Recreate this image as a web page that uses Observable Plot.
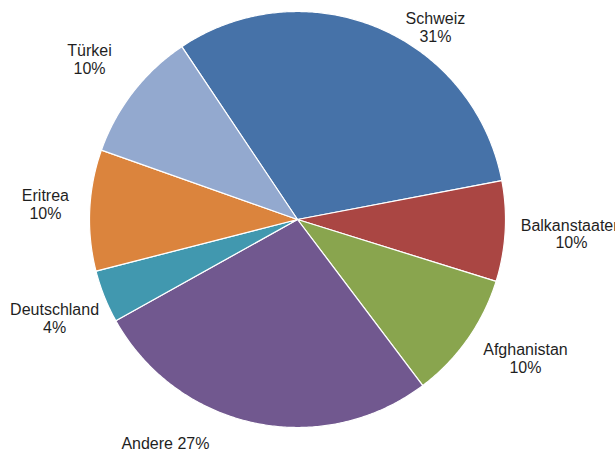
<!DOCTYPE html>
<html>
<head>
<meta charset="utf-8">
<script src="https://cdn.jsdelivr.net/npm/d3@7"></script>
<script src="https://cdn.jsdelivr.net/npm/@observablehq/plot@0.6"></script>
<style>
  html, body { margin: 0; padding: 0; background: #fff; }
  #chart { width: 615px; height: 459px; overflow: hidden; }
</style>
</head>
<body>
<div id="chart"></div>
<script>
// Slices in clockwise order starting from Schweiz
const categories = ["Schweiz", "Balkanstaaten", "Afghanistan", "Andere", "Deutschland", "Eritrea", "Türkei"];
const shares = [31.4, 7.8, 9.9, 27.2, 4.1, 9.4, 10.2];
const percentLabels = ["31%", "10%", "10%", "27%", "4%", "10%", "10%"];
const colors = ["#4672a8", "#aa4643", "#89a54e", "#71588f", "#4198af", "#db843d", "#93a9cf"];

const startAngle = 326.2; // degrees, clockwise from 12 o'clock

// Build slice polygons in unit-circle coordinates
const total = d3.sum(shares);
const polys = [];
let a0 = startAngle;
categories.forEach((name, i) => {
  const span = shares[i] / total * 360;
  polys.push({name, X: 0, Y: 0});
  const steps = Math.max(2, Math.ceil(span / 0.5));
  for (let k = 0; k <= steps; k++) {
    const a = (a0 + span * k / steps) * Math.PI / 180;
    polys.push({name, X: Math.sin(a), Y: Math.cos(a)});
  }
  a0 += span;
});

// Label layout (unit coordinates) — placement like the original
const labelAt = {
  "Schweiz": [0.663, 0.925],
  "Balkanstaaten": [1.317, -0.070],
  "Afghanistan": [1.096, -0.668],
  "Andere": [-0.635, -1.075],
  "Deutschland": [-1.168, -0.476],
  "Eritrea": [-1.212, 0.072],
  "Türkei": [-1.0, 0.769]
};
const labels = categories.map((name, i) => ({
  name,
  text: name === "Andere" ? `${name} ${percentLabels[i]}` : `${name}\n${percentLabels[i]}`,
  X: labelAt[name][0],
  Y: labelAt[name][1]
}));

const R = 208, cx = 297, cy = 219, W = 615, H = 459;

const chart = Plot.plot({
  width: W,
  height: H,
  margin: 0,
  x: {domain: [-cx / R, (W - cx) / R], axis: null},
  y: {domain: [-(H - cy) / R, cy / R], axis: null},
  color: {domain: categories, range: colors},
  style: {fontFamily: "'Liberation Sans', Arial, sans-serif", background: "#fff"},
  marks: [
    Plot.line(polys, {x: "X", y: "Y", z: "name", fill: "name", stroke: "#ffffff", strokeWidth: 1.2, strokeLinejoin: "round", curve: "linear-closed"}),
    Plot.text(labels, {x: "X", y: "Y", text: "text", fontSize: 16, fill: "#1f1f1f", lineHeight: 1.1, textAnchor: "middle"})
  ]
});
document.getElementById("chart").appendChild(chart);
</script>
</body>
</html>
